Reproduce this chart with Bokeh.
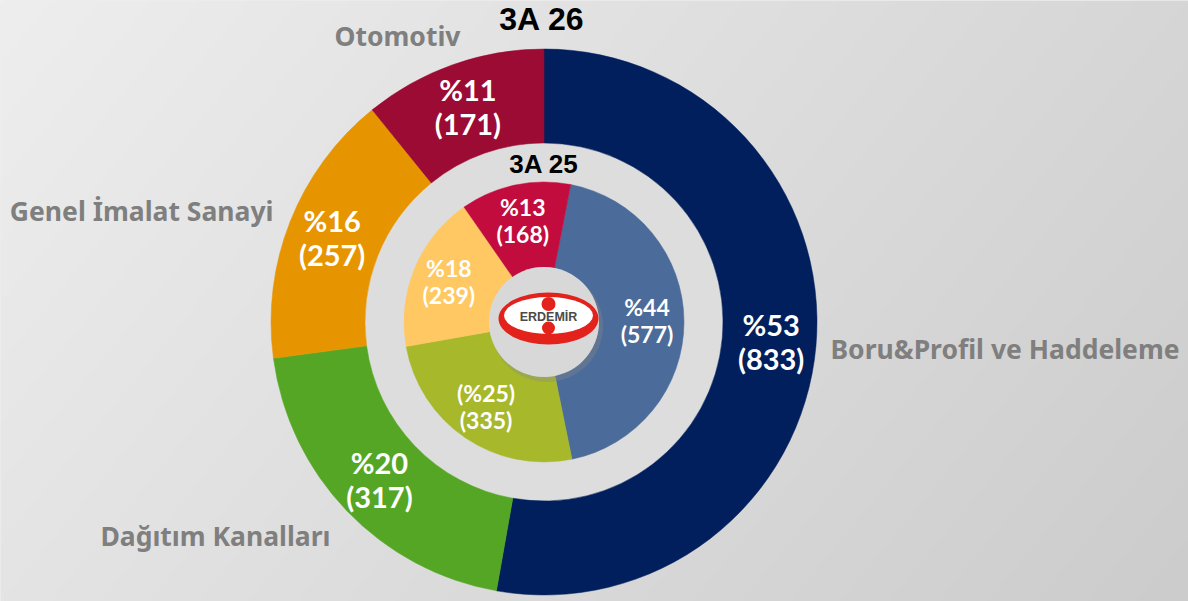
import numpy as np
from bokeh.plotting import figure
from bokeh.models import Range1d, ColumnDataSource
from bokeh.core.properties import value
from bokeh.embed import file_html
from bokeh.resources import INLINE

# ---------------- data ----------------
categories = ["Boru&Profil ve Haddeleme", "Dağıtım Kanalları", "Genel İmalat Sanayi", "Otomotiv"]
outer_title = "3A 26"
outer_values = [833, 317, 257, 171]
outer_pct = ["%53", "%20", "%16", "%11"]
inner_title = "3A 25"
inner_values = [577, 335, 239, 168]
inner_pct = ["%44", "(%25)", "%18", "%13"]

outer_colors = ["#001f5c", "#56a626", "#e69500", "#9c0b34"]
inner_colors = ["#4b6b9a", "#a7b82b", "#ffc862", "#c30c3e"]

# ---------------- layout ----------------
W, H = 1188, 601
X0, Y0 = 0, 0
def Y(yref):                        # reference pixel row -> data y
    return 601 - yref

SHIFT = 0.36                        # baseline correction (fraction of font size)

CX, CY = 543.5, Y(321.5)
R_OUT_O, R_OUT_I = 273, 179
R_IN_O, R_IN_I = 140, 55
INNER_ROT = np.deg2rad(11)          # inner ring rotated clockwise

p = figure(width=W, height=H, output_backend="svg", toolbar_location=None,
           x_range=Range1d(X0, X0 + W), y_range=Range1d(Y0, Y0 + H),
           min_border=0)
p.axis.visible = False
p.grid.visible = False
p.outline_line_color = None
p.background_fill_color = "#dedede"
p.border_fill_color = "#dedede"

# background gradient (brushed-metal look)
gh, gw = 150, 297
xf = np.linspace(0, 1, gw)[None, :]
yf = np.linspace(1, 0, gh)[:, None]      # row 0 = bottom
v = (238 - 24 * xf - 10 * yf).astype(np.uint8)
img = np.empty((gh, gw), dtype=np.uint32)
view = img.view(dtype=np.uint8).reshape((gh, gw, 4))
view[..., 0] = v
view[..., 1] = v
view[..., 2] = v
view[..., 3] = 255
p.image_rgba(image=[img], x=X0, y=Y0, dw=W, dh=H)

# light disk between the rings
p.circle(x=[CX], y=[CY], radius=R_OUT_I, fill_color="#dddddd", line_color=None)


def ring_source(values, labels, colors, rot):
    vals = np.array(values, dtype=float)
    frac = vals / vals.sum()
    cum = np.concatenate([[0], np.cumsum(frac)])
    start = np.pi / 2 - rot - 2 * np.pi * cum[:-1]
    end = np.pi / 2 - rot - 2 * np.pi * cum[1:]
    mid = (start + end) / 2
    return ColumnDataSource(dict(start=start, end=end, mid=mid, color=colors,
                                 pct=labels, val=["(%d)" % x for x in values]))


src_o = ring_source(outer_values, outer_pct, outer_colors, 0.0)
src_i = ring_source(inner_values, inner_pct, inner_colors, INNER_ROT)

p.annular_wedge(x=CX, y=CY, inner_radius=R_OUT_I, outer_radius=R_OUT_O,
                start_angle="start", end_angle="end", direction="clock",
                fill_color="color", line_color="color", line_width=0.5, source=src_o)
p.annular_wedge(x=CX, y=CY, inner_radius=R_IN_I, outer_radius=R_IN_O,
                start_angle="start", end_angle="end", direction="clock",
                fill_color="color", line_color="color", line_width=0.5, source=src_i)

# value labels
def add_labels(src, r, fs, up, down):
    d = src.data
    lx = CX + r * np.cos(d["mid"])
    ly = CY + r * np.sin(d["mid"]) + SHIFT * fs
    s = ColumnDataSource(dict(x=lx, y1=ly + up, y2=ly - down, pct=d["pct"], val=d["val"]))
    for ycol, tcol in (("y1", "pct"), ("y2", "val")):
        p.text(x="x", y=ycol, text=tcol, source=s, text_font=value("Lato"),
               text_font_style="bold", text_font_size="%gpx" % fs, text_color="white",
               text_align="center", text_baseline="alphabetic")

add_labels(src_o, 228, 29, 7, 27)
add_labels(src_i, 103, 23, 6, 21)

def label(x, yref, txt, font, fs, color, align="center"):
    p.text(x=[x], y=[Y(yref) + SHIFT * fs], text=[txt], text_font=value(font),
           text_font_style="bold", text_font_size="%gpx" % fs, text_color=color,
           text_align=align, text_baseline="alphabetic")

# category names
cat_pos = [(830, 358, "left"), (330, 545, "right"), (273, 220, "right"), (397, 45, "center")]
for name, (x, yref, al) in zip(categories, cat_pos):
    label(x, yref, name, "Noto Sans", 26.5, "#7f7f7f", al)

# titles
label(541.5, 30, outer_title, "Liberation Sans", 32, "black")
label(543.5, 173, inner_title, "Liberation Sans", 26, "black")

# centre badge with logo
p.circle(x=[CX + 3], y=[CY - 4], radius=R_IN_I + 1, fill_color="#8a8a8a",
         fill_alpha=0.35, line_color=None)
p.circle(x=[CX], y=[CY], radius=R_IN_I, fill_color="#d8d8d8", line_color=None)
p.ellipse(x=[548], y=[Y(318)], width=100, height=52, fill_color="#e3221c", line_color=None)
p.ellipse(x=[548], y=[Y(315)], width=89, height=37, fill_color="white", line_color=None)
p.circle(x=[548], y=[Y(303.5)], radius=7, fill_color="#e3221c", line_color=None)
p.circle(x=[548], y=[Y(327.5)], radius=6.5, fill_color="#e3221c", line_color=None)
label(548, 320.5, "ERDEMİR", "Liberation Sans", 12.5, "#4a4a4a")

open("out.html", "w").write(file_html(p, INLINE))
